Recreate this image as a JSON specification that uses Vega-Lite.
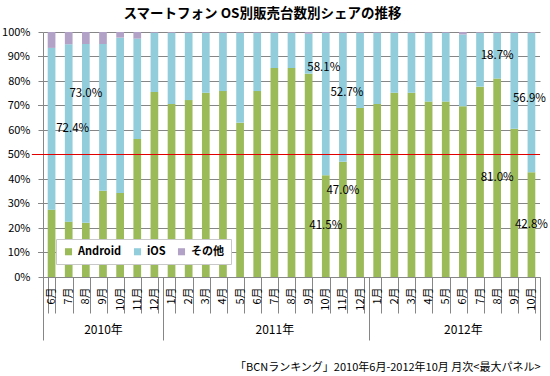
{
  "$schema": "https://vega.github.io/schema/vega-lite/v6.json",
  "width": 497,
  "height": 245,
  "autosize": {"type": "none"},
  "padding": {"left": 43, "top": 32, "right": 10, "bottom": 99},
  "title": {"text": "スマートフォン OS別販売台数別シェアの推移", "font": "Noto Sans CJK JP", "fontSize": 13.5, "fontWeight": "bold", "color": "#000000", "anchor": "middle", "frame": "group", "dx": -29, "offset": 6},
  "config": {
    "view": {"stroke": null},
    "font": "Noto Sans CJK JP",
    "axis": {"labelColor": "#000000", "labelFont": "Noto Sans CJK JP", "titleColor": "#000000"},
    "axisBand": {"labelOverlap": false, "labelFontSize": 11, "tickBand": "extent", "tickSize": 36, "labelPadding": -26, "tickColor": "#868686", "domainColor": "#868686", "labelAngle": 270, "labelAlign": "right", "labelBaseline": "middle"}
  },
  "datasets": {
    "levels": [
      {"level": 10, "text": "10%"}, {"level": 30, "text": "30%"}, {"level": 50, "text": "50%"}, {"level": 70, "text": "70%"}, {"level": 90, "text": "90%"}
    ],
    "shares": [
      {"month": "2010-06", "os": "Android", "share": 27.5}, {"month": "2010-06", "os": "iOS", "share": 66.0}, {"month": "2010-06", "os": "その他", "share": 6.5},
      {"month": "2010-07", "os": "Android", "share": 22.6}, {"month": "2010-07", "os": "iOS", "share": 72.4, "label": "72.4%"}, {"month": "2010-07", "os": "その他", "share": 5.0},
      {"month": "2010-08", "os": "Android", "share": 22.1}, {"month": "2010-08", "os": "iOS", "share": 73.0, "label": "73.0%"}, {"month": "2010-08", "os": "その他", "share": 4.9},
      {"month": "2010-09", "os": "Android", "share": 35.2}, {"month": "2010-09", "os": "iOS", "share": 59.9}, {"month": "2010-09", "os": "その他", "share": 4.9},
      {"month": "2010-10", "os": "Android", "share": 34.3}, {"month": "2010-10", "os": "iOS", "share": 63.4}, {"month": "2010-10", "os": "その他", "share": 2.3},
      {"month": "2010-11", "os": "Android", "share": 56.3}, {"month": "2010-11", "os": "iOS", "share": 41.0}, {"month": "2010-11", "os": "その他", "share": 2.7},
      {"month": "2010-12", "os": "Android", "share": 75.5}, {"month": "2010-12", "os": "iOS", "share": 24.2}, {"month": "2010-12", "os": "その他", "share": 0.3},
      {"month": "2011-01", "os": "Android", "share": 70.6}, {"month": "2011-01", "os": "iOS", "share": 29.1}, {"month": "2011-01", "os": "その他", "share": 0.3},
      {"month": "2011-02", "os": "Android", "share": 72.2}, {"month": "2011-02", "os": "iOS", "share": 27.5}, {"month": "2011-02", "os": "その他", "share": 0.3},
      {"month": "2011-03", "os": "Android", "share": 75.2}, {"month": "2011-03", "os": "iOS", "share": 24.5}, {"month": "2011-03", "os": "その他", "share": 0.3},
      {"month": "2011-04", "os": "Android", "share": 75.9}, {"month": "2011-04", "os": "iOS", "share": 23.8}, {"month": "2011-04", "os": "その他", "share": 0.3},
      {"month": "2011-05", "os": "Android", "share": 63.0}, {"month": "2011-05", "os": "iOS", "share": 36.7}, {"month": "2011-05", "os": "その他", "share": 0.3},
      {"month": "2011-06", "os": "Android", "share": 75.9}, {"month": "2011-06", "os": "iOS", "share": 23.8}, {"month": "2011-06", "os": "その他", "share": 0.3},
      {"month": "2011-07", "os": "Android", "share": 85.3}, {"month": "2011-07", "os": "iOS", "share": 14.4}, {"month": "2011-07", "os": "その他", "share": 0.3},
      {"month": "2011-08", "os": "Android", "share": 85.3}, {"month": "2011-08", "os": "iOS", "share": 14.4}, {"month": "2011-08", "os": "その他", "share": 0.3},
      {"month": "2011-09", "os": "Android", "share": 83.0}, {"month": "2011-09", "os": "iOS", "share": 16.3}, {"month": "2011-09", "os": "その他", "share": 0.7},
      {"month": "2011-10", "os": "Android", "share": 41.5, "label": "41.5%"}, {"month": "2011-10", "os": "iOS", "share": 58.1, "label": "58.1%"}, {"month": "2011-10", "os": "その他", "share": 0.4},
      {"month": "2011-11", "os": "Android", "share": 47.0, "label": "47.0%"}, {"month": "2011-11", "os": "iOS", "share": 52.7, "label": "52.7%"}, {"month": "2011-11", "os": "その他", "share": 0.3},
      {"month": "2011-12", "os": "Android", "share": 69.0}, {"month": "2011-12", "os": "iOS", "share": 30.7}, {"month": "2011-12", "os": "その他", "share": 0.3},
      {"month": "2012-01", "os": "Android", "share": 70.6}, {"month": "2012-01", "os": "iOS", "share": 29.1}, {"month": "2012-01", "os": "その他", "share": 0.3},
      {"month": "2012-02", "os": "Android", "share": 75.2}, {"month": "2012-02", "os": "iOS", "share": 24.5}, {"month": "2012-02", "os": "その他", "share": 0.3},
      {"month": "2012-03", "os": "Android", "share": 75.2}, {"month": "2012-03", "os": "iOS", "share": 24.5}, {"month": "2012-03", "os": "その他", "share": 0.3},
      {"month": "2012-04", "os": "Android", "share": 71.6}, {"month": "2012-04", "os": "iOS", "share": 28.1}, {"month": "2012-04", "os": "その他", "share": 0.3},
      {"month": "2012-05", "os": "Android", "share": 71.6}, {"month": "2012-05", "os": "iOS", "share": 28.1}, {"month": "2012-05", "os": "その他", "share": 0.3},
      {"month": "2012-06", "os": "Android", "share": 69.7}, {"month": "2012-06", "os": "iOS", "share": 29.3}, {"month": "2012-06", "os": "その他", "share": 1.0},
      {"month": "2012-07", "os": "Android", "share": 77.7}, {"month": "2012-07", "os": "iOS", "share": 22.0}, {"month": "2012-07", "os": "その他", "share": 0.3},
      {"month": "2012-08", "os": "Android", "share": 81.0, "label": "81.0%"}, {"month": "2012-08", "os": "iOS", "share": 18.7, "label": "18.7%"}, {"month": "2012-08", "os": "その他", "share": 0.3},
      {"month": "2012-09", "os": "Android", "share": 60.5}, {"month": "2012-09", "os": "iOS", "share": 39.2}, {"month": "2012-09", "os": "その他", "share": 0.3},
      {"month": "2012-10", "os": "Android", "share": 42.8, "label": "42.8%"}, {"month": "2012-10", "os": "iOS", "share": 56.9, "label": "56.9%"}, {"month": "2012-10", "os": "その他", "share": 0.3}
    ]
  },
  "layer": [
    {
      "data": {"name": "levels"},
      "mark": {"type": "rule", "color": "#868686", "strokeWidth": 1},
      "encoding": {
        "x": {"datum": -0.29, "type": "quantitative", "scale": {"domain": [0, 29], "nice": false, "zero": false}, "axis": null},
        "x2": {"datum": 29},
        "y": {"field": "level", "type": "quantitative"}
      }
    },
    {
      "data": {"name": "shares"},
      "layer": [
        {
          "mark": {"type": "bar"},
          "encoding": {
            "x": {
              "field": "month", "type": "ordinal",
              "scale": {"paddingInner": 0.55, "paddingOuter": 0.275},
              "axis": {
                "orient": "bottom", "title": null,
                "labelExpr": "isString(datum.value) && length(datum.value) == 7 ? toNumber(substring(datum.value, 5)) + '月' : ''"
              }
            },
            "y": {
              "field": "share", "type": "quantitative", "stack": "zero",
              "scale": {"domain": [0, 100], "nice": false},
              "axis": {
                "title": null, "values": [0, 10, 20, 30, 40, 50, 60, 70, 80, 90, 100], "tickCount": 10, "labelExpr": "datum.value + '%'",
                "labelOverlap": false, "grid": true, "gridColor": "#868686", "tickSize": 5, "labelPadding": 8,
                "tickColor": "#868686", "domainColor": "#868686", "labelFontSize": 11
              }
            },
            "color": {
              "field": "os", "type": "nominal",
              "scale": {"domain": ["Android", "iOS", "その他"], "range": ["#9BBB59", "#92CDDC", "#B3A2C7"]},
              "legend": {
                "title": null, "orient": "bottom-left", "direction": "horizontal", "offset": 13,
                "fillColor": "#ffffff", "strokeColor": "#c8c8c8", "padding": 7,
                "symbolType": "square", "symbolSize": 50, "symbolStrokeWidth": 0,
                "labelFontSize": 11, "labelFontWeight": "bold", "labelColor": "#000000", "columnPadding": 10
              }
            },
            "order": {"field": "os", "sort": "ascending"}
          }
        },
        {
          "transform": [
            {"stack": "share", "groupby": ["month"], "sort": [{"field": "os", "order": "ascending"}], "as": ["s0", "s1"]},
            {"filter": "datum.label"},
            {"calculate": "(datum.s0 + datum.s1) / 2", "as": "mid"}
          ],
          "encoding": {
            "x": {"field": "month", "type": "ordinal"},
            "y": {"field": "mid", "type": "quantitative", "stack": null},
            "text": {"field": "label"}
          },
          "layer": [
            {"transform": [{"filter": "indexof(['41.5%', '81.0%', '42.8%', '18.7%'], datum.label) >= 0"}], "mark": {"type": "text", "fontSize": 11.5, "color": "#000000"}},
            {"transform": [{"filter": "indexof(['72.4%', '52.7%'], datum.label) >= 0"}], "mark": {"type": "text", "fontSize": 11.5, "color": "#000000", "dx": 4, "dy": -4}},
            {"transform": [{"filter": "datum.label == '56.9%'"}], "mark": {"type": "text", "fontSize": 11.5, "color": "#000000", "dx": -2, "dy": -3}},
            {"transform": [{"filter": "datum.label == '73.0%'"}], "mark": {"type": "text", "fontSize": 11.5, "color": "#000000", "dy": -39}},
            {"transform": [{"filter": "datum.label == '58.1%'"}], "mark": {"type": "text", "fontSize": 11.5, "color": "#000000", "dx": -2, "dy": -36}},
            {"transform": [{"filter": "datum.label == '47.0%'"}], "mark": {"type": "text", "fontSize": 11.5, "color": "#000000", "dy": -28}}
          ]
        }
      ]
    },
    {
      "data": {"name": "levels"},
      "mark": {"type": "text", "align": "right", "baseline": "middle", "fontSize": 11, "color": "#000000", "font": "Noto Sans CJK JP"},
      "encoding": {
        "x": {"datum": -0.76, "type": "quantitative", "scale": {"domain": [0, 29], "nice": false, "zero": false}, "axis": null},
        "y": {"field": "level", "type": "quantitative"},
        "text": {"field": "text"}
      }
    },
    {
      "data": {"values": [{}]},
      "mark": {"type": "rule", "color": "#E00000", "strokeWidth": 1.2},
      "encoding": {
        "x": {"datum": -0.65, "type": "quantitative", "scale": {"domain": [0, 29], "nice": false, "zero": false}, "axis": null},
        "x2": {"datum": 29},
        "y": {"datum": 50, "type": "quantitative"}
      }
    },
    {
      "data": {"values": [{}]},
      "mark": {"type": "rule", "opacity": 0},
      "encoding": {
        "x": {
          "datum": 0, "type": "quantitative", "scale": {"domain": [0, 29], "nice": false, "zero": false},
          "axis": {"orient": "bottom", "values": [0, 7, 19, 29], "tickSize": 63, "labels": false, "domain": false, "grid": false, "title": null, "tickColor": "#868686"}
        }
      }
    },
    {
      "data": {"values": [{}]},
      "mark": {"type": "rule", "opacity": 0},
      "encoding": {
        "x": {
          "datum": 0, "type": "quantitative", "scale": {"domain": [0, 29], "nice": false, "zero": false},
          "axis": {
            "orient": "bottom", "values": [3.5, 13.5, 24.5],
            "labelExpr": "datum.value < 5 ? '2010年' : (datum.value < 15 ? '2011年' : '2012年')",
            "ticks": false, "domain": false, "grid": false, "labelPadding": 47, "labelFontSize": 12, "labelBaseline": "top",
            "title": "「BCNランキング」2010年6月-2012年10月 月次<最大パネル>",
            "titleAnchor": "end", "titleFontSize": 11, "titleFontWeight": "normal", "titlePadding": 26
          }
        }
      }
    }
  ],
  "resolve": {"scale": {"x": "independent"}}
}
